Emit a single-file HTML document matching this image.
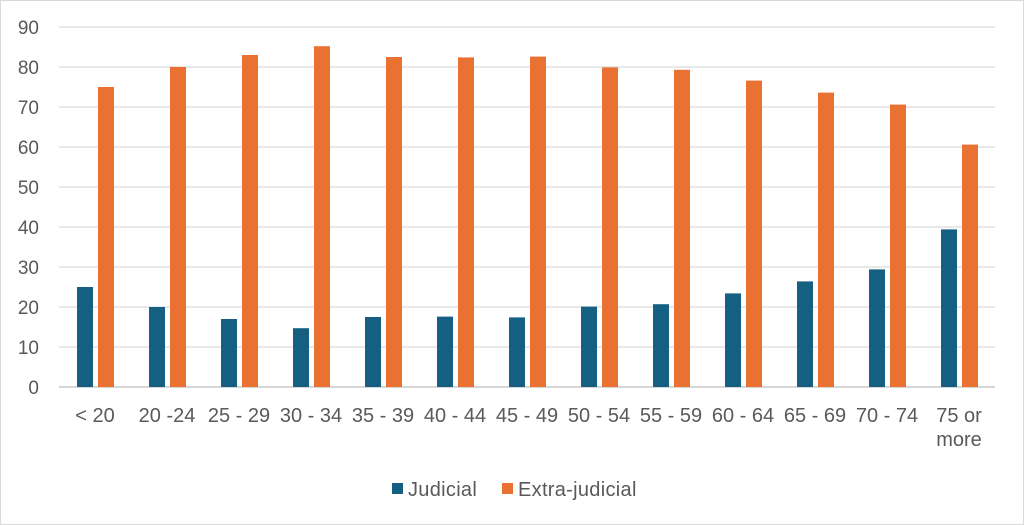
<!DOCTYPE html>
<html><head><meta charset="utf-8"><style>
body{margin:0;background:#fff;}
svg{display:block;font-family:"Liberation Sans",sans-serif;}
</style></head><body>
<svg id="chart" width="1024" height="525">
<rect x="0.5" y="0.5" width="1023" height="524" fill="#fff" stroke="#d9d9d9"/>
<g id="grid"></g><g id="bars"></g><g id="labels"></g>
<g>
<rect x="392" y="483" width="11" height="11" fill="#156082"/>
<text x="408" y="496" font-size="20" letter-spacing="0.3" fill="#595959">Judicial</text>
<rect x="502" y="483" width="11" height="11" fill="#e97132"/>
<text x="518" y="496" font-size="20" letter-spacing="0.3" fill="#595959">Extra-judicial</text>
</g>
</svg>
<script>
const categories=["< 20","20 -24","25 - 29","30 - 34","35 - 39","40 - 44","45 - 49","50 - 54","55 - 59","60 - 64","65 - 69","70 - 74","75 or|more"];
const judicial=[25,20,17,14.7,17.5,17.6,17.4,20.1,20.7,23.4,26.4,29.4,39.4];
const extraJudicial=[75,80,83,85.2,82.5,82.4,82.6,79.9,79.3,76.6,73.6,70.6,60.6];
const yTicks=[0,10,20,30,40,50,60,70,80,90];
const NS="http://www.w3.org/2000/svg";
const plotLeft=59,plotRight=995,plotTop=27,plotBottom=387,yMax=90;
const bw=(plotRight-plotLeft)/categories.length;
const y=v=>plotBottom-(v/yMax)*(plotBottom-plotTop);
const x=i=>plotLeft+i*bw;
function mk(t,a,p){const e=document.createElementNS(NS,t);for(const k in a)e.setAttribute(k,a[k]);p.appendChild(e);return e;}
const grid=document.getElementById('grid'),bars=document.getElementById('bars'),labels=document.getElementById('labels');
yTicks.forEach(t=>{
 const l=mk('line',{x1:plotLeft,x2:plotRight,y1:y(t),y2:y(t),stroke:t===0?'#bfbfbf':'#d9d9d9','stroke-width':1.3},grid);
 
 
 const tx=mk('text',{x:39,y:y(t)+7,'text-anchor':'end','font-size':19,fill:'#595959'},labels);
 tx.textContent=t;
 
 
});
categories.forEach((c,i)=>{
 const b1=mk('rect',{x:x(i)+18,y:y(judicial[i]),width:16,height:plotBottom-y(judicial[i]),fill:'#156082'},bars);
 
 
 const b2=mk('rect',{x:x(i)+39,y:y(extraJudicial[i]),width:16,height:plotBottom-y(extraJudicial[i]),fill:'#e97132'},bars);
 
 
 const parts=c.split('|');
 parts.forEach((p,j)=>{
  const t=mk('text',{x:x(i)+bw/2,y:422+j*24,'text-anchor':'middle','font-size':20,fill:'#595959'},labels);
  t.textContent=p;
  
  
 });
});
</script>
</body></html>
